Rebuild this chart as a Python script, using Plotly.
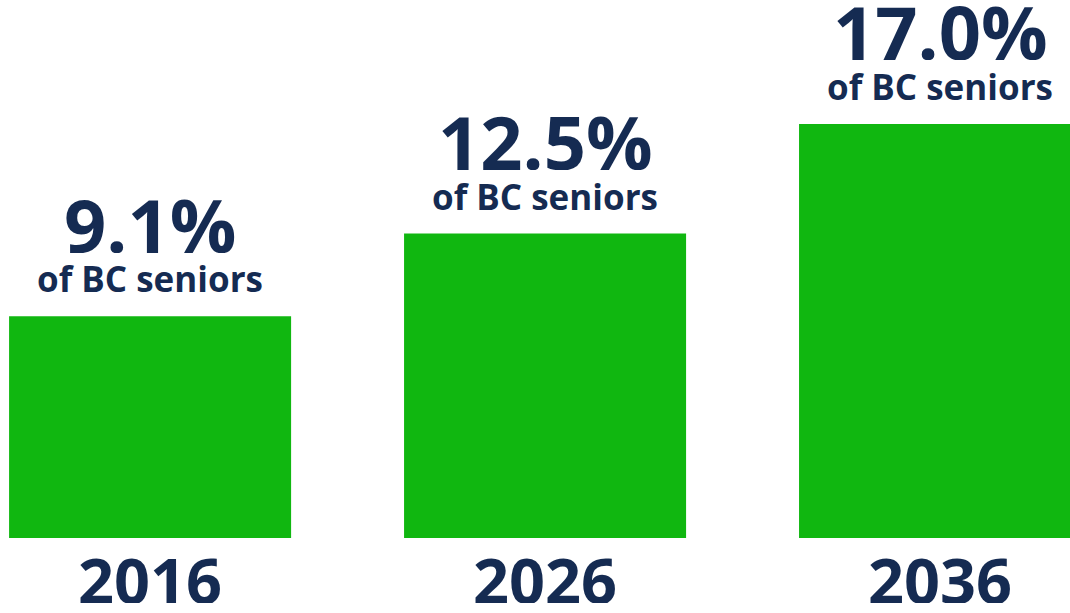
import plotly.graph_objects as go

# Share of BC seniors, by year
years = ["2016", "2026", "2036"]
shares = [9.1, 12.5, 17.0]
share_labels = ["9.1%", "12.5%", "17.0%"]
sub_label = "of BC seniors"

GREEN = "#10b710"
NAVY = "#152b52"
FONT = "Open Sans"

fig = go.Figure(
    go.Bar(
        x=years,
        y=shares,
        width=0.714,
        marker=dict(color=GREEN, line=dict(width=0)),
        hoverinfo="skip",
    )
)

annotations = []
for i, (yr, val, lab) in enumerate(zip(years, shares, share_labels)):
    # headline percentage above each bar
    annotations.append(dict(
        x=i, y=val, xref="x", yref="y", text=f"<b>{lab}</b>",
        showarrow=False, yanchor="middle", yshift=92.5, height=58,
        font=dict(family=FONT, size=74, color=NAVY),
    ))
    # caption under the percentage
    annotations.append(dict(
        x=i, y=val, xref="x", yref="y", text=f"<b>{sub_label}</b>",
        showarrow=False, yanchor="middle", yshift=37.9, height=28,
        font=dict(family=FONT, size=35, color=NAVY),
    ))
    # year below each bar
    annotations.append(dict(
        x=i, y=0, xref="x", yref="y", text=f"<b>{yr}</b>",
        showarrow=False, yanchor="middle", yshift=-40.9, height=48,
        font=dict(family=FONT, size=63, color=NAVY),
    ))

fig.update_layout(
    width=1070, height=613,
    margin=dict(l=0, r=0, t=0, b=75),
    paper_bgcolor="white", plot_bgcolor="white",
    showlegend=False,
    annotations=annotations,
    xaxis=dict(type="category", range=[-0.380, 2.329], showticklabels=False,
               showgrid=False, zeroline=False, showline=False, fixedrange=True),
    yaxis=dict(range=[0, 22.09], showticklabels=False, showgrid=False,
               zeroline=False, showline=False, fixedrange=True),
)

fig.write_html("out.html")
